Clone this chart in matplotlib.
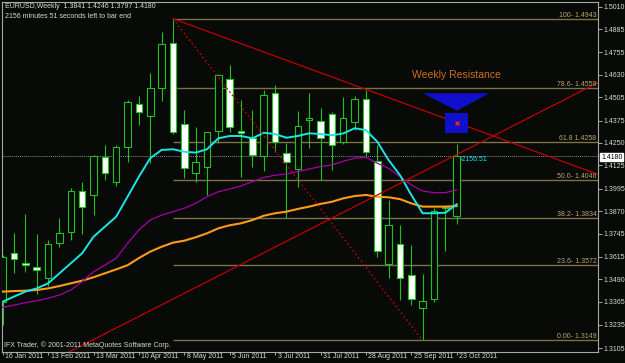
import matplotlib
matplotlib.use('Agg')
import matplotlib.pyplot as plt
from matplotlib import font_manager
from matplotlib.patches import Rectangle, Polygon

# EURUSD weekly bars, first bar = week of 16 Jan 2011
opens = [1.3365, 1.3635, 1.3583, 1.3557, 1.3495, 1.3691, 1.3755, 1.3984, 1.3960, 1.4170,
         1.4031, 1.4226, 1.4467, 1.4402, 1.4555, 1.4806, 1.4356, 1.4081, 1.4114, 1.4317,
         1.4605, 1.4319, 1.4277, 1.4179, 1.4527, 1.4196, 1.4104, 1.4380, 1.4373, 1.4411,
         1.4257, 1.4369, 1.4494, 1.4151, 1.3576, 1.3685, 1.3514, 1.3332, 1.3378, 1.3885,
         1.3841]
highs = [1.3625, 1.3746, 1.3852, 1.3742, 1.3710, 1.3830, 1.4000, 1.4034, 1.4185, 1.4240,
         1.4240, 1.4490, 1.4512, 1.4640, 1.4870, 1.4943, 1.4434, 1.4341, 1.4312, 1.4636,
         1.4685, 1.4490, 1.4434, 1.4545, 1.4573, 1.4248, 1.4427, 1.4531, 1.4443, 1.4424,
         1.4509, 1.4510, 1.4548, 1.4239, 1.3932, 1.3790, 1.3681, 1.3517, 1.3890, 1.3905,
         1.4246]
lows = [1.3235, 1.3526, 1.3530, 1.3408, 1.3450, 1.3672, 1.3709, 1.3742, 1.3850, 1.4045,
        1.4012, 1.4146, 1.4350, 1.4140, 1.4486, 1.4300, 1.4053, 1.4034, 1.3960, 1.4250,
        1.4313, 1.4062, 1.4118, 1.4095, 1.4200, 1.3830, 1.4006, 1.4220, 1.4043, 1.4100,
        1.4245, 1.4320, 1.4177, 1.3616, 1.3495, 1.3375, 1.3346, 1.3149, 1.3365, 1.3645,
        1.3797]
closes = [1.3616, 1.3601, 1.3572, 1.3541, 1.3685, 1.3746, 1.3982, 1.3891, 1.4177, 1.4085,
          1.4226, 1.4480, 1.4421, 1.4555, 1.4802, 1.4310, 1.4110, 1.4146, 1.4310, 1.4629,
          1.4337, 1.4305, 1.4183, 1.4515, 1.4255, 1.4146, 1.4347, 1.4387, 1.4277, 1.4238,
          1.4387, 1.4494, 1.4198, 1.3647, 1.3793, 1.3495, 1.3378, 1.3369, 1.3873, 1.3893,
          1.4180]

# moving averages
ma_cyan = [1.3365, 1.3393, 1.3421, 1.3439, 1.3467, 1.3523, 1.3579, 1.3635, 1.3727, 1.3783,
           1.3839, 1.3950, 1.4062, 1.4165, 1.4211, 1.4215, 1.4201, 1.4196, 1.4215, 1.4276,
           1.4289, 1.4289, 1.4276, 1.4307, 1.4300, 1.4279, 1.4289, 1.4304, 1.4300, 1.4293,
           1.4303, 1.4332, 1.4322, 1.4257, 1.4155, 1.4071, 1.3960, 1.3858, 1.3858, 1.3861,
           1.3908]
ma_magenta = [1.3333, 1.3346, 1.3359, 1.3370, 1.3384, 1.3402, 1.3430, 1.3476, 1.3532, 1.3569,
              1.3607, 1.3690, 1.3765, 1.3820, 1.3848, 1.3867, 1.3886, 1.3913, 1.3950, 1.3978,
              1.3993, 1.4010, 1.4034, 1.4058, 1.4070, 1.4077, 1.4090, 1.4105, 1.4118, 1.4127,
              1.4148, 1.4165, 1.4170, 1.4137, 1.4109, 1.4062, 1.4016, 1.3982, 1.3973, 1.3973,
              1.3988]
ma_orange = [1.3421, 1.3424, 1.3426, 1.3430, 1.3439, 1.3452, 1.3467, 1.3482, 1.3501, 1.3523,
             1.3545, 1.3568, 1.3608, 1.3644, 1.3671, 1.3694, 1.3705, 1.3724, 1.3746, 1.3774,
             1.3791, 1.3802, 1.3820, 1.3844, 1.3858, 1.3867, 1.3882, 1.3895, 1.3910, 1.3922,
             1.3941, 1.3954, 1.3960, 1.3950, 1.3947, 1.3937, 1.3913, 1.3895, 1.3895, 1.3895,
             1.3898]

date_ticks = [0, 4, 8, 12, 16, 20, 24, 28, 32, 36, 40]
date_labels = ['16 Jan 2011', '13 Feb 2011', '13 Mar 2011', '10 Apr 2011', '8 May 2011',
               '5 Jun 2011', '3 Jul 2011', '31 Jul 2011', '28 Aug 2011', '25 Sep 2011',
               '23 Oct 2011']
price_ticks = [1.5010, 1.4885, 1.4755, 1.4630, 1.4505, 1.4375, 1.4250, 1.4125, 1.3995,
               1.3870, 1.3745, 1.3615, 1.3490, 1.3365, 1.3235, 1.3105]

# fibonacci retracement (high bar 15 -> low bar 37)
fib_labels = ['100- 1.4943', '78.6- 1.4559', '61.8 1.4258', '50.0- 1.4046',
              '38.2- 1.3834', '23.6- 1.3572', '0.00- 1.3149']
fib_levels = [1.4943, 1.4559, 1.4258, 1.4046, 1.3834, 1.3572, 1.3149]
fib_start_bar = 15
fib_bars = [15, 37]
fib_prices = [1.4943, 1.3149]

# trend lines (two anchor points each, drawn as rays)
res_bars = [15, 52.36]
res_prices = [1.4943, 1.4077]
sup_bars = [11.39, 52.36]
sup_prices = [1.3263, 1.4584]

bid = 1.4180
header = 'EURUSD,Weekly  1.3841 1.4246 1.3797 1.4180'
timer = '2156 minutes 51 seconds left to bar end'

# chart geometry (pixels)
W, H = 625, 363
BAR_PX, BAR0_PX = 11.35, 2.7
PX_PER_UNIT, REF_PRICE, REF_PX = 1793.0, 1.5010, 6.7
AX_L, AX_R, AX_T, AX_B = 2, 598, 2, 351.7

BG = '#070a07'
GREEN = '#1fc21f'
FIB = '#7f704a'
FIB_TXT = '#bba86c'
RED = '#c00000'
TXT = '#d9d9d9'
AXC = '#a8a8a8'

names = {f.name for f in font_manager.fontManager.ttflist}
FONT = 'Liberation Sans' if 'Liberation Sans' in names else 'DejaVu Sans'
plt.rcParams['font.family'] = FONT
FS = 5


def to_price(py):
    return REF_PRICE - (py - REF_PX) / PX_PER_UNIT


def to_bar(px):
    return (px - BAR0_PX) / BAR_PX


fig = plt.figure(figsize=(W / 100, H / 100), dpi=100, facecolor=BG)
ax = fig.add_axes([AX_L / W, (H - AX_B) / H, (AX_R - AX_L) / W, (AX_B - AX_T) / H])
ax.set_facecolor(BG)
ax.set_xlim(to_bar(AX_L), to_bar(AX_R))
ax.set_ylim(to_price(AX_B), to_price(AX_T))
xmax = to_bar(AX_R)

# fib levels + labels
for lab, lvl in zip(fib_labels, fib_levels):
    ax.hlines(lvl, fib_start_bar, xmax + 1, color=FIB, lw=1.0, zorder=1)
    ax.text(to_bar(596.5), lvl, lab, ha='right', va='bottom',
            fontsize=FS, color=FIB_TXT, zorder=6)

# bid line
ax.axhline(bid, color='#8c8c8c', lw=0.7, ls=(0, (1, 1)), zorder=1)

# candles
for i, (o, h, l, c) in enumerate(zip(opens, highs, lows, closes)):
    ax.vlines(i, l, h, color=GREEN, lw=0.8, zorder=2)
    bear = c < o
    bottom = min(o, c)
    height = max(abs(c - o), 0.0004)
    ax.add_patch(Rectangle((i - 0.29, bottom), 0.58, height,
                           facecolor='white' if bear else BG,
                           edgecolor=GREEN, lw=0.8, zorder=3))

# moving averages
x = list(range(len(closes)))
ax.plot(x, ma_orange, color='#ff9a1a', lw=1.5, zorder=4)
ax.plot(x, ma_magenta, color='#a800a8', lw=0.9, zorder=4)
ax.plot(x, ma_cyan, color='#19e6e6', lw=1.4, zorder=4)


def ray(bars, prices, x0, x1):
    slope = (prices[1] - prices[0]) / (bars[1] - bars[0])
    return [x0, x1], [prices[0] + slope * (x0 - bars[0]), prices[0] + slope * (x1 - bars[0])]


rx, ry = ray(res_bars, res_prices, res_bars[0], xmax + 2)
ax.plot(rx, ry, color=RED, lw=0.9, zorder=5)
sx, sy = ray(sup_bars, sup_prices, -5, xmax + 2)
ax.plot(sx, sy, color=RED, lw=0.9, zorder=5)
ax.plot(fib_bars, fib_prices, color=RED, lw=0.9, ls=(0, (1.5, 2)), zorder=5)

# weekly resistance marker
ax.add_patch(Polygon([(to_bar(423), to_price(93.3)), (to_bar(489.3), to_price(93.3)),
                      (to_bar(456.7), to_price(110.7))], closed=True,
                     facecolor='#1010cc', edgecolor='none', zorder=6))
ax.add_patch(Rectangle((to_bar(445), to_price(133.3)), to_bar(467.7) - to_bar(445),
                       to_price(112.7) - to_price(133.3), facecolor='#1010cc',
                       edgecolor='none', zorder=6))
ax.plot([40], [to_price(123)], marker='x', color='#ff2020', ms=3, mew=1, zorder=7)
ax.text(to_bar(456), to_price(75), 'Weekly Resistance', ha='center', va='center',
        fontsize=7.5, color='#cf6f1e', zorder=7)
ax.text(to_bar(460), to_price(160), '\u20392156:51', ha='left', va='center',
        fontsize=FS, color='#19e6e6', zorder=7)

# axes styling
for sp in ax.spines.values():
    sp.set_color(AXC)
    sp.set_linewidth(0.8)
ax.yaxis.tick_right()
ax.set_yticks(price_ticks)
ax.set_yticklabels([f'{p:.4f}' for p in price_ticks])
ax.set_xticks(date_ticks)
ax.set_xticklabels([])
ax.tick_params(colors=AXC, labelcolor=TXT, labelsize=FS, length=3, width=0.7, pad=1)
ax.tick_params(axis='x', length=2.5)

# date labels just below the axis, left-aligned at each tick
y_lab = -(356.5 - AX_B) / (AX_B - AX_T)
for b, lab in zip(date_ticks, date_labels):
    ax.text(b + 2.5 / BAR_PX, y_lab, lab, transform=ax.get_xaxis_transform(),
            ha='left', va='center', fontsize=FS, color=TXT, clip_on=False)

# bid price box on the scale
fig.text(601 / W, 1 - 157 / H, f'{bid:.4f}', ha='left', va='center', fontsize=FS,
         color='black', bbox=dict(facecolor='white', edgecolor='white', pad=0.6))

fig.text(5 / W, 1 - 6.7 / H, header, ha='left', va='center', fontsize=FS, color=TXT)
fig.text(5 / W, 1 - 16 / H, timer, ha='left', va='center', fontsize=FS, color=TXT)
fig.text(4 / W, 1 - 345 / H, 'IFX Trader, \u00a9 2001-2011 MetaQuotes Software Corp.',
         ha='left', va='center', fontsize=FS, color=TXT)

fig.savefig('out.png', dpi=100, facecolor=BG)
